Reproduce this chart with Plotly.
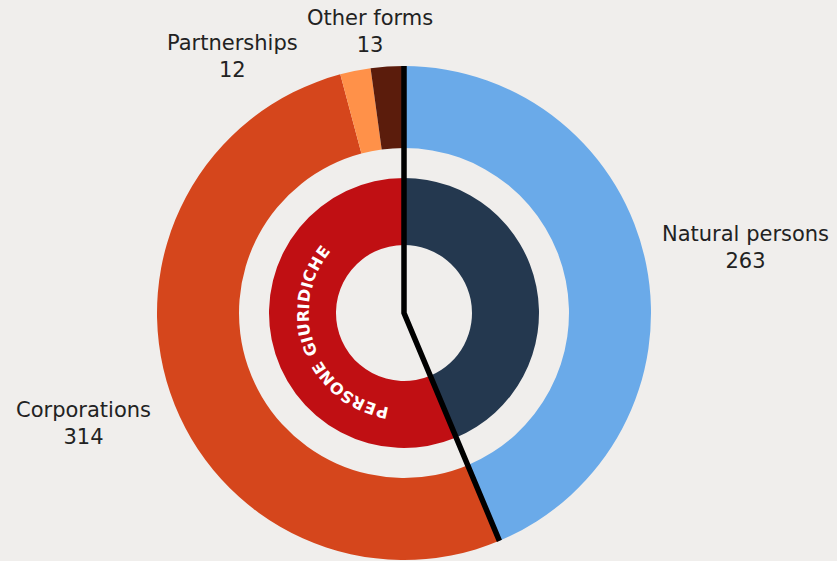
import math
import plotly.graph_objects as go

# ---- data ----
outer_labels = ["Natural persons", "Corporations", "Partnerships", "Other forms"]
outer_values = [263, 314, 12, 13]
outer_colors = ["#6aaae9", "#d5461c", "#ff9149", "#5b1c0c"]
inner_labels = ["Natural persons", "Persone giuridiche"]
inner_values = [263, 339]
inner_colors = ["#24384f", "#c00f13"]
ring_text = "PERSONE GIURIDICHE"

# ---- geometry (pixels) ----
W, H = 837, 561
cx, cy = 404, 313
R_out, R_out_hole = 247, 165
R_in, R_in_hole = 135, 68
BG = "#f0eeec"
FONT = "DejaVu Sans"


def dom(r):
    return dict(x=[(cx - r) / W, (cx + r) / W], y=[(H - cy - r) / H, (H - cy + r) / H])


def px(x, y):
    return x / W, 1 - y / H


fig = go.Figure()
fig.add_trace(go.Pie(
    labels=outer_labels, values=outer_values, marker=dict(colors=outer_colors, line=dict(width=0)),
    hole=R_out_hole / R_out, sort=False, direction="clockwise", rotation=0,
    textinfo="none", domain=dom(R_out), showlegend=False, hoverinfo="label+value"))
fig.add_trace(go.Pie(
    labels=inner_labels, values=inner_values, marker=dict(colors=inner_colors, line=dict(width=0)),
    hole=R_in_hole / R_in, sort=False, direction="clockwise", rotation=0,
    textinfo="none", domain=dom(R_in), showlegend=False, hoverinfo="label+value"))

# boundary line between natural persons and legal persons (drawn above pies)
total = sum(outer_values)
ang = math.radians(inner_values[0] / total * 360)
ex, ey = cx + R_out * math.sin(ang), cy - R_out * math.cos(ang)
path = f"M {cx},{cy - R_out} L {cx},{cy} L {ex:.2f},{ey:.2f}"
shapes = [dict(type="path", path=path, xref="x", yref="y", layer="above",
               line=dict(color="black", width=5.5))]

annotations = []
# outer labels
label_pos = [(745, 247), (83, 423), (233, 57), (370, 31)]
for lab, val, (x, y) in zip(outer_labels, outer_values, label_pos):
    X, Y = px(x, y)
    annotations.append(dict(x=X, y=Y, xref="paper", yref="paper", text=f"{lab}<br>{val}",
                            showarrow=False, xanchor="center", yanchor="middle",
                            font=dict(family=FONT, size=21, color="#222222")))

# curved ring text
fs = 16
em = {"P": .733, "E": .683, "R": .770, "S": .720, "O": .850, "N": .837, " ": .348,
      "G": .821, "I": .372, "U": .812, "D": .830, "C": .734, "H": .837}
track = 1.0
widths = [em.get(c, .75) * fs + track for c in ring_text]
r_txt = 101
tot_w = sum(widths)
center_deg = 249.5
start = center_deg - math.degrees(tot_w / r_txt) / 2
acc = 0
for c, w in zip(ring_text, widths):
    a = start + math.degrees((acc + w / 2) / r_txt)
    acc += w
    if c == " ":
        continue
    t = math.radians(a)
    X, Y = px(cx + r_txt * math.sin(t), cy - r_txt * math.cos(t))
    annotations.append(dict(x=X, y=Y, xref="paper", yref="paper", text=f"<b>{c}</b>",
                            showarrow=False, xanchor="center", yanchor="middle",
                            textangle=a - 360, font=dict(family=FONT, size=fs, color="white")))

fig.update_layout(
    width=W, height=H, margin=dict(l=0, r=0, t=0, b=0),
    paper_bgcolor=BG, plot_bgcolor="rgba(0,0,0,0)",
    xaxis=dict(range=[0, W], domain=[0, 1], visible=False, fixedrange=True),
    yaxis=dict(range=[H, 0], domain=[0, 1], visible=False, fixedrange=True),
    annotations=annotations, shapes=shapes,
)
fig.write_html("out.html", config={"displayModeBar": False},
               post_script="document.body.style.margin='0';document.body.style.background='#f0eeec';")
